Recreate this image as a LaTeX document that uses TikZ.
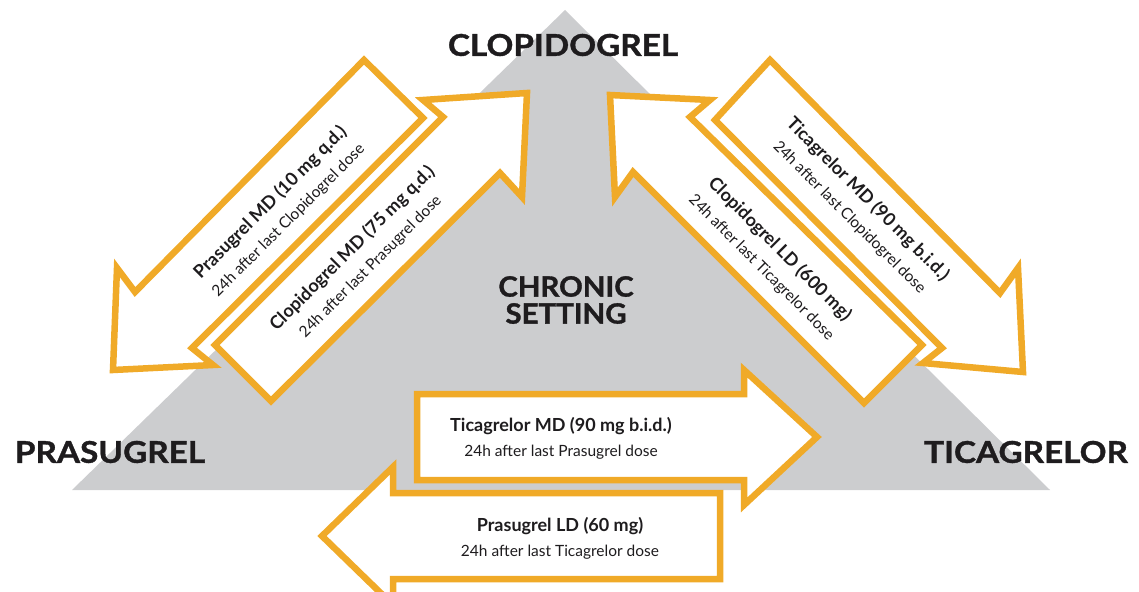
\documentclass[tikz,border=0pt]{standalone}
\usepackage{fontspec}
\setmainfont{Lato}
\definecolor{arroworange}{RGB}{240,170,40}
\definecolor{tri}{RGB}{204,205,207}
\definecolor{ink}{RGB}{30,28,30}
\begin{document}
\begin{tikzpicture}[x=1pt,y=-1pt,
  arrowbox/.style={draw=arroworange, fill=white, line width=6.5pt, line join=miter, miter limit=10},
  biglabel/.style={font=\fontsize{30}{27}\selectfont\bfseries\addfontfeatures{FakeStretch=1.11,FakeBold=1.2}, text=ink, inner sep=0pt},
  midlabel/.style={font=\fontsize{28}{27}\selectfont\bfseries\addfontfeatures{FakeStretch=1.05,FakeBold=1.2}, text=ink, inner sep=0pt, align=center},
  arrowtext/.style={align=center, text=ink, inner sep=0pt, font=\fontsize{15.5}{25}\selectfont}]
\useasboundingbox (0,0) rectangle (1139,591);
\clip (0,0) rectangle (1139,591);
% grey triangle
\fill[tri] (565,10) -- (1050,490) -- (72,490) -- cycle;
% left pair
\draw[arrowbox] (364,60) -- (423,118) -- (192,348) -- (213,365) -- (113,370) -- (117,268) -- (135,292) -- cycle;
\draw[arrowbox] (215,345) -- (443,117) -- (423,100) -- (527,93) -- (522,197) -- (500,173) -- (271,401) -- cycle;
% right pair
\draw[arrowbox] (610,95) -- (710,100) -- (690,117) -- (922,345) -- (864,403) -- (633,172) -- (615,197) -- cycle;
\draw[arrowbox] (770,60) -- (1000,293) -- (1018,268) -- (1023,372) -- (923,363) -- (942,348) -- (715,120) -- cycle;
% bottom pair
\draw[arrowbox] (417,394) -- (744,394) -- (744,370) -- (817,437) -- (744,505) -- (744,480) -- (417,480) -- cycle;
\draw[arrowbox] (720,493) -- (393,493) -- (393,467) -- (322,536) -- (393,605) -- (393,579) -- (720,579) -- cycle;
% labels
\node[biglabel] (clop) at (563,45) {CLOPIDOGREL};
\node[biglabel] (pras) at (110,452) {PRASUGREL};
\node[biglabel] (tica) at (1026,452) {TICAGRELOR};
\node[midlabel] (chronic) at (566,300) {CHRONIC\\SETTING};
% arrow texts
\node[arrowtext, rotate=45] (tA) at (279,211) {{\bfseries\fontsize{18}{25}\selectfont Prasugrel MD (10 mg q.d.)}\\24h after last Clopidogrel dose};
\node[arrowtext, rotate=45] (tB) at (361,257) {{\bfseries\fontsize{18}{25}\selectfont Clopidogrel MD (75 mg q.d.)}\\24h after last Prasugrel dose};
\node[arrowtext, rotate=-45] (tC) at (771,258) {{\bfseries\fontsize{18}{25}\selectfont Clopidogrel LD (600 mg)}\\24h after last Ticagrelor dose};
\node[arrowtext, rotate=-45] (tD) at (859,208) {{\bfseries\fontsize{18}{25}\selectfont Ticagrelor MD (90 mg b.i.d.)}\\24h after last Clopidogrel dose};
\node[arrowtext] (tE) at (561,438) {{\bfseries\fontsize{18}{25}\selectfont Ticagrelor MD (90 mg b.i.d.)}\\24h after last Prasugrel dose};
\node[arrowtext] (tF) at (560,538) {{\bfseries\fontsize{18}{25}\selectfont Prasugrel LD (60 mg)}\\24h after last Ticagrelor dose};
\end{tikzpicture}
\end{document}
